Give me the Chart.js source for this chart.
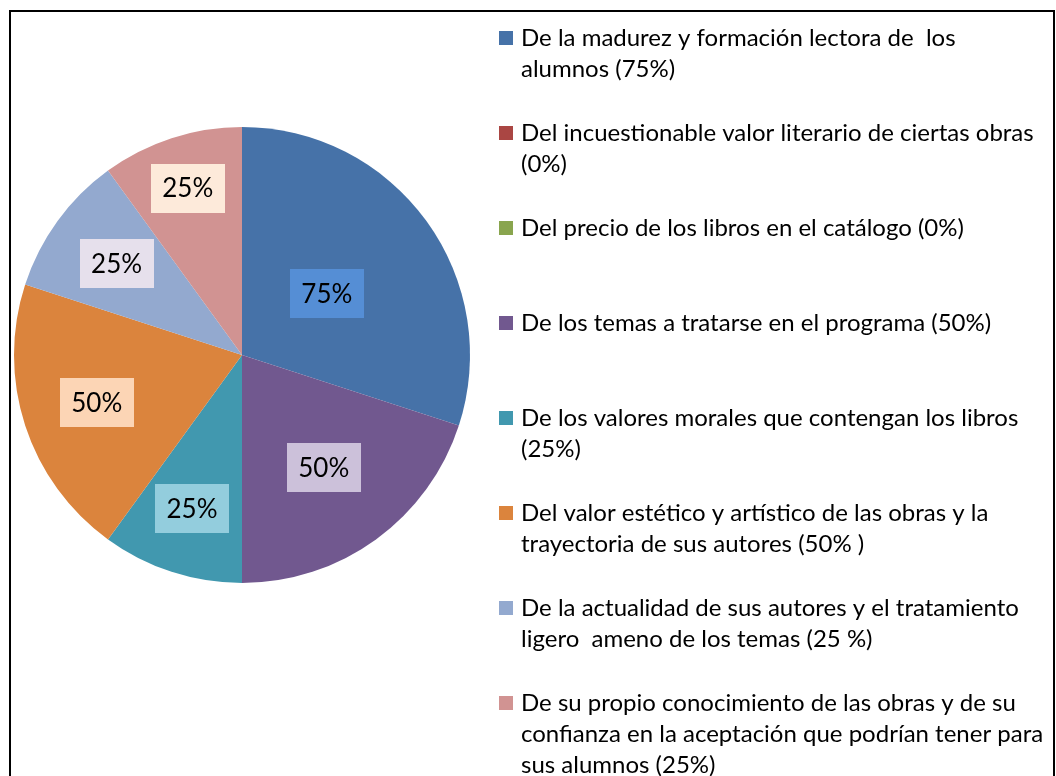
<!DOCTYPE html>
<html>
<head>
<meta charset="utf-8">
<script src="https://cdn.jsdelivr.net/npm/chart.js@4.4.0/dist/chart.umd.min.js"></script>
<style>
    body { margin: 0; background: #fff; }
    #frame { position: absolute; left: 9px; top: 10px; width: 1046px; height: 800px; box-sizing: border-box;
             border-left: 2px solid #000; border-top: 2px solid #000; border-right: 2px solid #000; }
    #wrap { position: absolute; left: 0; top: 0; width: 1056px; height: 776px; }
</style>
</head>
<body>
<div id="frame"></div>
<div id="wrap"><canvas id="pieChart" width="1056" height="776"></canvas></div>
<script>
// ========== DATA ==========
const categories = [
    ['De la madurez y formación lectora de  los', 'alumnos (75%)'],
    ['Del incuestionable valor literario de ciertas obras', '(0%)'],
    ['Del precio de los libros en el catálogo (0%)'],
    ['De los temas a tratarse en el programa (50%)'],
    ['De los valores morales que contengan los libros', '(25%)'],
    ['Del valor estético y artístico de las obras y la', 'trayectoria de sus autores (50% )'],
    ['De la actualidad de sus autores y el tratamiento', 'ligero  ameno de los temas (25 %)'],
    ['De su propio conocimiento de las obras y de su', 'confianza en la aceptación que podrían tener para', 'sus alumnos (25%)']
];
const values = [75, 0, 0, 50, 25, 50, 25, 25];

// ========== STYLE ==========
const sliceColors = ['#4672A8', '#AA4643', '#89A54E', '#71588F', '#4198AF', '#DB843D', '#93A9CF', '#D19392'];
const boxColors = ['#558ED5', '#E6B9B8', '#D7E4BD', '#CCC1DA', '#93CDDD', '#FCD5B5', '#E6E0EC', '#FDEADA'];
const labelDist = [0.46, 0.5, 0.5, 0.61, 0.71, 0.67, 0.68, 0.77];
const FONT = 'Lato, "Open Sans", sans-serif';

// ========== LABEL BOXES ==========
const boxLabels = {
    id: 'boxLabels',
    afterDatasetsDraw(chart) {
        const ctx = chart.ctx;
        const meta = chart.getDatasetMeta(0);
        ctx.save();
        meta.data.forEach((arc, i) => {
            if (!values[i]) return;
            const p = arc.getProps(['x', 'y', 'startAngle', 'endAngle', 'outerRadius']);
            const mid = (p.startAngle + p.endAngle) / 2;
            const d = p.outerRadius * labelDist[i];
            const cx = p.x + Math.cos(mid) * d;
            const cy = p.y + Math.sin(mid) * d;
            ctx.fillStyle = boxColors[i];
            ctx.fillRect(Math.round(cx - 37), Math.round(cy - 24.5), 74, 49);
            ctx.fillStyle = '#000';
            ctx.font = '26px ' + FONT;
            ctx.textAlign = 'center';
            ctx.textBaseline = 'middle';
            ctx.fillText(values[i] + '%', cx, cy + 1);
        });
        ctx.restore();
    }
};

// ========== LEGEND ==========
const sideLegend = {
    id: 'sideLegend',
    afterDraw(chart) {
        const ctx = chart.ctx;
        ctx.save();
        ctx.font = '24px ' + FONT;
        ctx.textBaseline = 'middle';
        ctx.textAlign = 'left';
        categories.forEach((lines, i) => {
            const y = 38 + i * 95;
            ctx.fillStyle = sliceColors[i];
            ctx.fillRect(499, y - 7, 14, 14);
            ctx.fillStyle = '#000';
            lines.forEach((t, j) => ctx.fillText(t, 521, y + j * 31));
        });
        ctx.restore();
    }
};

// ========== CHART ==========
new Chart(document.getElementById('pieChart').getContext('2d'), {
    type: 'pie',
    data: {
        labels: categories,
        datasets: [{
            data: values,
            backgroundColor: sliceColors,
            borderWidth: 0
        }]
    },
    options: {
        responsive: false,
        animation: false,
        layout: { padding: { left: 14, top: 127, right: 586, bottom: 193 } },
        plugins: { legend: { display: false }, tooltip: { enabled: false } }
    },
    plugins: [boxLabels, sideLegend]
});
</script>
</body>
</html>
